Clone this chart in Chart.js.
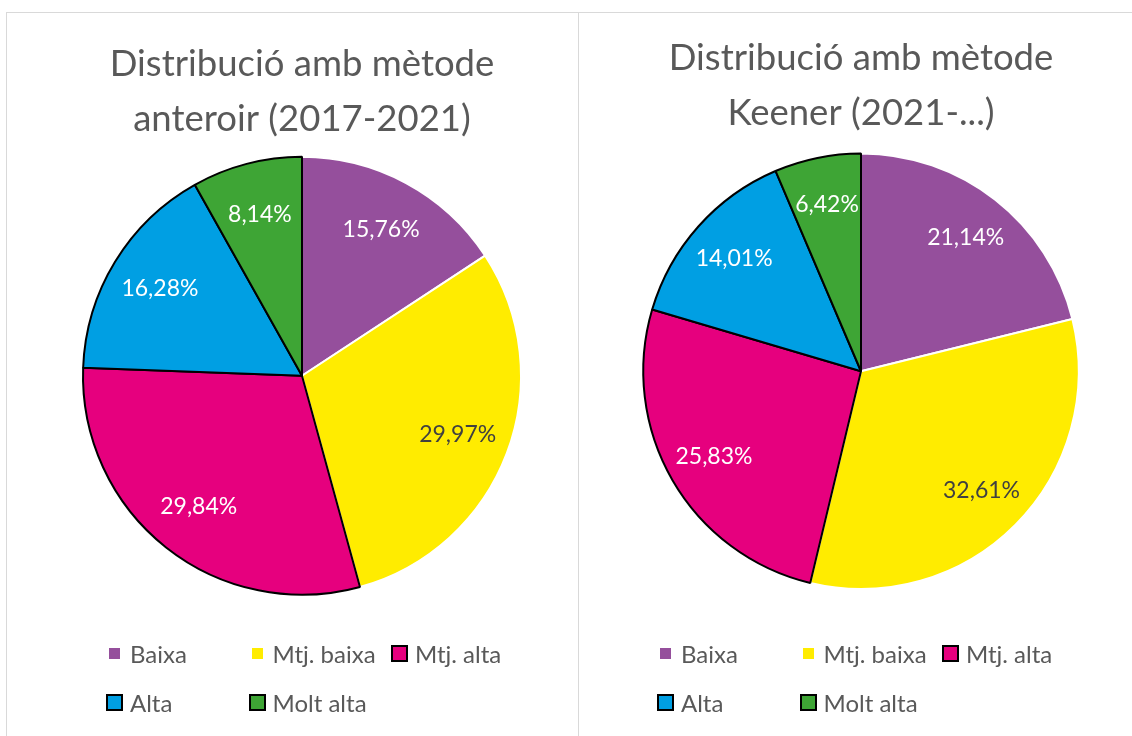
<!DOCTYPE html>
<html>
<head>
<meta charset="utf-8">
<script src="https://cdn.jsdelivr.net/npm/chart.js@4.4.0/dist/chart.umd.min.js"></script>
<style>
  body { margin: 0; background: #fff; width: 1132px; height: 736px; overflow: hidden; position: relative; font-family: Lato, sans-serif; }
  .panel { position: absolute; top: 12px; height: 740px; border: 1px solid #d9d9d9; box-sizing: border-box; }
  #p1 { left: 6px; width: 573px; }
  #p2 { left: 578px; width: 570px; }
  canvas { position: absolute; }
  .legend { position: absolute; display: grid; grid-template-columns: 142.5px 142.5px 142.5px; grid-auto-rows: 49px; color: #595959; font-size: 24px; }
  .item { display: flex; align-items: center; white-space: nowrap; }
  .box { width: 17px; height: 17px; box-sizing: border-box; margin-right: 7px; flex: none; }
</style>
</head>
<body>
<div class="panel" id="p1"></div>
<div class="panel" id="p2"></div>
<canvas id="c1" width="570" height="723" style="left:7px;top:13px"></canvas>
<canvas id="c2" width="553" height="723" style="left:579px;top:13px"></canvas>
<div class="legend" id="l1" style="left:106px;top:629px"></div>
<div class="legend" id="l2" style="left:657px;top:629px"></div>
<script>
// Categories i valors
const categories = ['Baixa', 'Mtj. baixa', 'Mtj. alta', 'Alta', 'Molt alta'];
const valuesAnterior = [15.76, 29.97, 29.84, 16.28, 8.14];
const valuesKeener = [21.14, 32.61, 25.83, 14.01, 6.42];
const titleAnterior = ['Distribució amb mètode', 'anteroir (2017-2021)'];
const titleKeener = ['Distribució amb mètode', 'Keener (2021-...)'];

const colors = ['#954f9c', '#ffec00', '#e6007e', '#009fe3', '#3ea535'];
const borders = ['#ffffff', '#ffffff', '#000000', '#000000', '#000000'];
const labelColors = ['#ffffff', '#404040', '#ffffff', '#ffffff', '#ffffff'];

function fmt(v) {
    return v.toFixed(2).replace('.', ',') + '%';
}

// Etiquetes dins de cada porció
const pieLabels = {
    id: 'pieLabels',
    afterDatasetsDraw(chart, args, opts) {
        const ctx = chart.ctx;
        const meta = chart.getDatasetMeta(0);
        const data = chart.data.datasets[0].data;
        ctx.save();
        ctx.font = '23px Lato, sans-serif';
        ctx.textAlign = 'center';
        ctx.textBaseline = 'middle';
        meta.data.forEach((arc, i) => {
            const p = arc.getProps(['x', 'y', 'startAngle', 'endAngle', 'outerRadius'], true);
            const mid = (p.startAngle + p.endAngle) / 2;
            const r = p.outerRadius * opts.offset;
            ctx.fillStyle = labelColors[i];
            ctx.fillText(fmt(data[i]), p.x + Math.cos(mid) * r, p.y + Math.sin(mid) * r);
        });
        ctx.restore();
    }
};

function makePie(id, values, title, padding, titlePad, offset) {
    new Chart(document.getElementById(id), {
        type: 'pie',
        data: {
            labels: categories,
            datasets: [{
                data: values,
                backgroundColor: colors,
                borderColor: borders,
                borderWidth: 2
            }]
        },
        options: {
            responsive: false,
            animation: false,
            events: [],
            layout: { padding: padding },
            plugins: {
                legend: { display: false },
                tooltip: { enabled: false },
                title: {
                    display: true,
                    text: title,
                    color: '#595959',
                    font: { family: 'Lato', size: 36.5, weight: 'normal', lineHeight: 1.5 },
                    padding: titlePad
                },
                pieLabels: { offset: offset }
            }
        },
        plugins: [pieLabels]
    });
}

function makeLegend(id) {
    const el = document.getElementById(id);
    categories.forEach((c, i) => {
        const item = document.createElement('div');
        item.className = 'item';
        const box = document.createElement('span');
        box.className = 'box';
        box.style.background = colors[i];
        box.style.border = (i < 2 ? '3px' : '2px') + ' solid ' + borders[i];
        item.appendChild(box);
        item.appendChild(document.createTextNode(c));
        el.appendChild(item);
    });
}

makePie('c1', valuesAnterior, titleAnterior, { left: 75, right: 55, top: 24, bottom: 138 }, { top: 0, bottom: 7 }, 0.76);
makePie('c2', valuesKeener, titleKeener, { left: 63, right: 52, top: 18, bottom: 146 }, { top: 0, bottom: 12 }, 0.78);
makeLegend('l1');
makeLegend('l2');
</script>
</body>
</html>
